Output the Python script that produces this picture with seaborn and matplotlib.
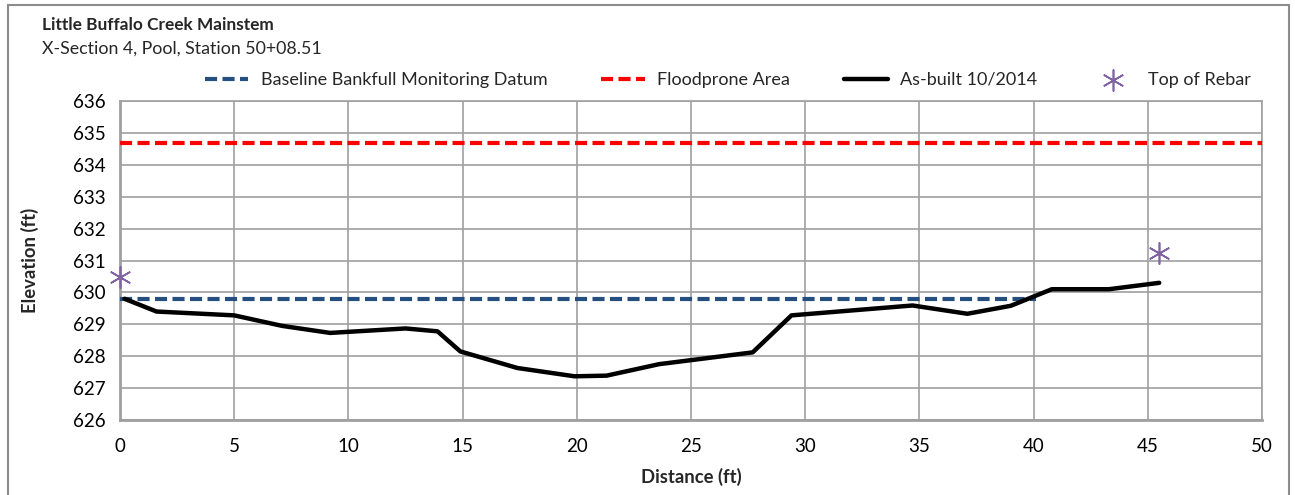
import numpy as np
import pandas as pd
import matplotlib
matplotlib.use("Agg")
import matplotlib.pyplot as plt
import seaborn as sns
from matplotlib.patches import Rectangle

# datos
asbuilt_dist = [0.2, 1.6, 5.0, 7.1, 9.2, 12.5, 13.9, 14.9, 17.4, 19.9, 21.3,
                23.6, 27.7, 29.4, 34.7, 37.1, 39.0, 40.8, 43.3, 45.5]
asbuilt_elev = [629.80, 629.40, 629.28, 628.95, 628.73, 628.87, 628.78, 628.15,
                627.63, 627.37, 627.39, 627.75, 628.12, 629.28, 629.59, 629.33,
                629.58, 630.10, 630.10, 630.30]
bankfull_dist = [0.0, 40.1]
bankfull_elev = [629.80, 629.80]
flood_dist = [0.0, 50.0]
flood_elev = [634.68, 634.68]
rebar_dist = [0.0, 45.5]
rebar_elev = [630.48, 631.25]

x_ticks = list(range(0, 51, 5))
y_ticks = list(range(626, 637))

sns.set_style("white")
plt.rcParams["font.family"] = ["Lato", "DejaVu Sans"]

fig = plt.figure(figsize=(12.95, 4.95), dpi=100)
ax = fig.add_axes([120 / 1295, 1 - 420 / 495, (1262 - 120) / 1295, (420 - 101) / 495])

grid_c = "#a0a0a0"
ax.set_axisbelow(True)
ax.grid(True, color=grid_c, linewidth=1.2)

dash = (2.9, 1.3)
ax.plot(bankfull_dist, bankfull_elev, color="#254f7e", linewidth=3, dashes=dash,
        label="Baseline Bankfull Monitoring Datum", zorder=3)
ax.plot(flood_dist, flood_elev, color="#ff0000", linewidth=3, dashes=dash,
        label="Floodprone Area", zorder=3)

df_ab = pd.DataFrame({"dist": asbuilt_dist, "elev": asbuilt_elev})
sns.lineplot(data=df_ab, x="dist", y="elev", ax=ax, color="black", linewidth=3.2,
             sort=False, label="As-built 10/2014", zorder=4)

df_rb = pd.DataFrame({"dist": rebar_dist, "elev": rebar_elev})
sns.scatterplot(data=df_rb, x="dist", y="elev", ax=ax, marker=(6, 2, 0), s=230,
                color="#8064a2", linewidth=1.2, label="Top of Rebar", zorder=5,
                clip_on=False)

ax.set_xlim(0, 50)
ax.set_ylim(626, 636)
ax.set_xticks(x_ticks)
ax.set_yticks(y_ticks)
ax.tick_params(axis="both", labelsize=13.5, colors="black", length=5,
               color=grid_c, direction="out", pad=5)
ax.tick_params(axis="x", pad=8)
for side in ["left", "bottom", "top", "right"]:
    ax.spines[side].set_color(grid_c)
    ax.spines[side].set_linewidth(1.2)
ax.spines["left"].set_linewidth(2)
ax.spines["bottom"].set_linewidth(2)

ax.set_xlabel("Distance (ft)", fontsize=13.3, fontweight="bold", labelpad=9)
ax.set_ylabel("Elevation (ft)", fontsize=13.3, fontweight="bold", labelpad=25)

leg = ax.legend(loc="center", bbox_to_anchor=(0.532, 1.066), ncol=4, frameon=False,
                fontsize=13, handlelength=2.4, columnspacing=3.0, handletextpad=0.7,
                borderaxespad=0, borderpad=0)

fig.text(42 / 1295, 1 - 25 / 495, "Little Buffalo Creek Mainstem", fontsize=12.4,
         fontweight="bold", va="center", ha="left")
fig.text(42 / 1295, 1 - 49 / 495, "X-Section 4, Pool, Station 50+08.51", fontsize=12.8,
         va="center", ha="left")

fig.patches.append(Rectangle((8 / 1295, -0.05), (1289 - 8) / 1295, 1.05 - 5 / 495,
                             transform=fig.transFigure, fill=False,
                             edgecolor="#8c8c8c", linewidth=1.5))

fig.savefig("out.png", dpi=100)
